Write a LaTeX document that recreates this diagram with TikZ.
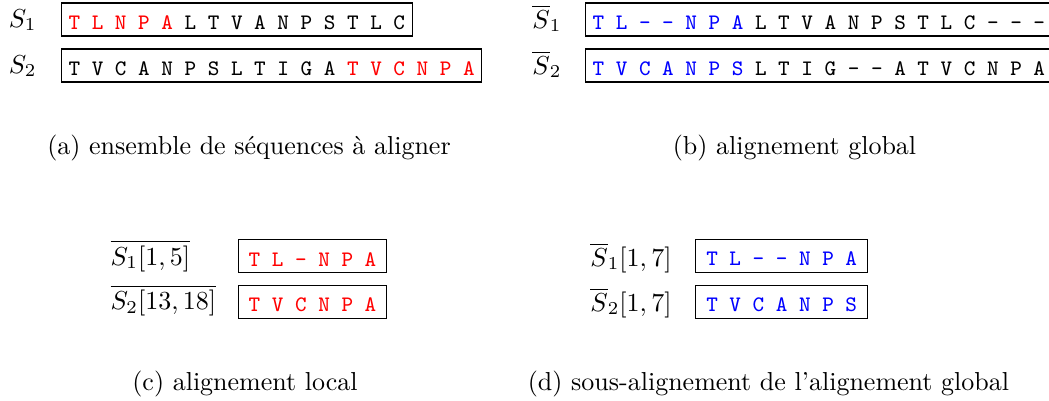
\RequirePackage{fix-cm}
\documentclass[tikz,border=0pt]{standalone}
\usepackage{xcolor}
\newcommand\myseqfont{\fontsize{8.5}{10}\selectfont\ttfamily}
\newcommand\mylabfont{\fontsize{10}{12}\selectfont}
\tikzset{
  seqbox/.style={draw, line width=0.45pt, anchor=base west, inner ysep=0pt,
    text height=10.1pt, text depth=2.6pt, font=\myseqfont},
  seqa/.style={seqbox, inner xsep=2.7pt},
  seqc/.style={seqbox, inner xsep=3.9pt},
  seqd/.style={seqbox, inner xsep=4.1pt},
  lab/.style={font=\mylabfont, inner sep=0pt},
  captext/.style={font=\fontsize{10}{12}\selectfont, anchor=base, inner sep=0pt}
}
\begin{document}
\begin{tikzpicture}[x=0.38462pt, y=-0.38462pt]
\useasboundingbox (0,0) rectangle (1049,400);
% (a)
\node[lab, anchor=base east] (la1) at (37,27) {$S_1$};
\node[lab, anchor=base east] (la2) at (37,73) {$S_2$};
\node[seqa] (a1) at (61,29.3) {\textcolor{red}{T L N P A} L T V A N P S T L C};
\node[seqa] (a2) at (61,75.3) {T V C A N P S L T I G A \textcolor{red}{T V C N P A}};
\node[captext] (capa) at (249,154.5) {(a) ensemble de séquences à aligner};
% (b)
\node[lab, anchor=base east] (lb1) at (562,28) {$\overline{S}_1$};
\node[lab, anchor=base east] (lb2) at (562,74) {$\overline{S}_2$};
\node[seqa] (b1) at (585,29.3) {\textcolor{blue}{T L - - N P A} L T V A N P S T L C - - -};
\node[seqa] (b2) at (585,75.3) {\textcolor{blue}{T V C A N P S} L T I G - - A T V C N P A};
\node[captext] (capb) at (794.5,154.5) {(b) alignement global};
% (c)
\node[lab, anchor=base west] (lc1) at (110,265) {$\overline{S_1[1,5]}$};
\node[lab, anchor=base west] (lc2) at (110,309.5) {$\overline{S_2[13,18]}$};
\node[seqc] (c1) at (238,266) {\textcolor{red}{T L - N P A}};
\node[seqc] (c2) at (238,311.7) {\textcolor{red}{T V C N P A}};
\node[captext] (capc) at (245,390.5) {(c) alignement local};
% (d)
\node[lab, anchor=base east] (ld1) at (672,266) {$\overline{S}_1[1,7]$};
\node[lab, anchor=base east] (ld2) at (672,311) {$\overline{S}_2[1,7]$};
\node[seqd] (d1) at (695,265.5) {\textcolor{blue}{T L - - N P A}};
\node[seqd] (d2) at (695,311.5) {\textcolor{blue}{T V C A N P S}};
\node[captext] (capd) at (768.5,390.5) {(d) sous-alignement de l’alignement global};
\end{tikzpicture}
\end{document}
